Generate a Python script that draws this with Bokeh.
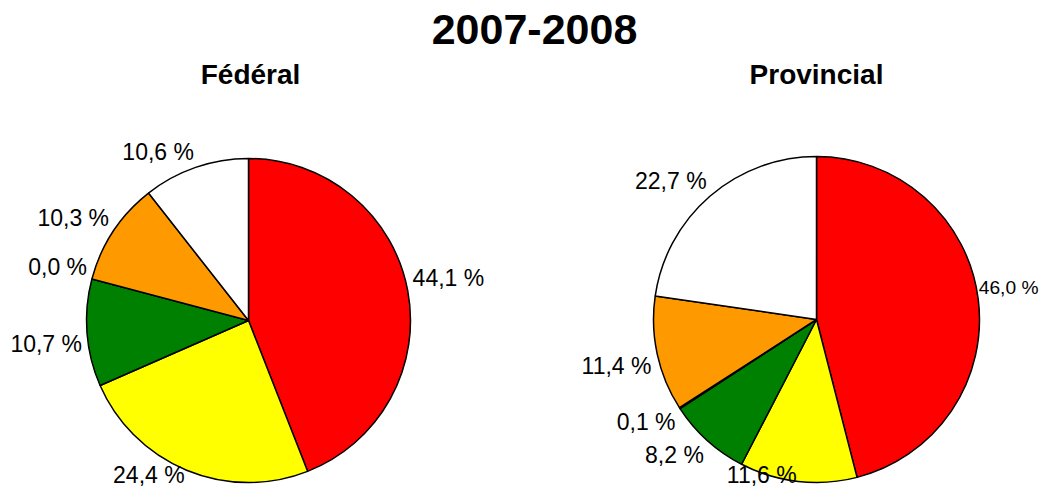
import math
from bokeh.plotting import figure
from bokeh.models import Range1d, ColumnDataSource
from bokeh.embed import file_html
from bokeh.resources import INLINE
from bokeh.core.properties import value

# ---- data ----
main_title = "2007-2008"
pie_titles = ["Fédéral", "Provincial"]
segments = ["Rouge", "Jaune", "Vert", "Bleu", "Orange", "Blanc"]
federal_values = [44.1, 24.4, 10.7, 0.0, 10.3, 10.6]
provincial_values = [46.0, 11.6, 8.2, 0.1, 11.4, 22.7]
colors = ["#FF0000", "#FFFF00", "#008000", "#0000FF", "#FF9900", "#FFFFFF"]

# ---- layout (pixel-based data space) ----
W, H = 1039, 488
FONT = "Liberation Sans"
LABEL_SIZE = 23
CHAR_W = {",": 0.278, " ": 0.278, "%": 0.889, ".": 0.278}

def sx(x):
    return x

def sy(y):
    return H - y

def em_width(t):
    return sum(CHAR_W.get(ch, 0.556) for ch in t)

def sgn(v, eps=0.05):
    return 0 if abs(v) < eps else (1 if v > 0 else -1)

p = figure(width=W, height=H, x_range=Range1d(0, W), y_range=Range1d(0, H),
           output_backend="svg", toolbar_location=None, min_border=0,
           x_axis_location=None, y_axis_location=None)
p.grid.visible = False
p.outline_line_color = None
p.background_fill_color = "white"
p.border_fill_color = "white"

pies = [
    (pie_titles[0], federal_values, (248, 320), 162, (250, 74)),
    (pie_titles[1], provincial_values, (816, 319), 163, (816, 74)),
]

# main title
p.text(x=[sx(534)], y=[sy(29)], text=[main_title], text_font=value(FONT),
       text_font_style="bold", text_font_size="43px", text_align="center",
       text_baseline="middle", text_color="black")

for name, vals, (cx, cy), r, (tx, ty) in pies:
    total = sum(vals)
    cum = 0.0
    wx, wy, st, en, fc = [], [], [], [], []
    lx, ly, lt, ls = [], [], [], []
    for v, col in zip(vals, colors):
        t0 = cum / total * 2 * math.pi
        t1 = (cum + v) / total * 2 * math.pi
        cum += v
        if v > 0:
            wx.append(sx(cx)); wy.append(sy(cy))
            st.append(math.pi / 2 - t0); en.append(math.pi / 2 - t1)
            fc.append(col)
        mid = (t0 + t1) / 2
        s, c = math.sin(mid), math.cos(mid)
        label = f"{v:.1f} %".replace(".", ",")
        size = LABEL_SIZE
        w = em_width(label) * size
        h = 22
        g = 5
        px = cx + (r + g) * s
        py = cy - (r + g) * c
        X = px + sgn(s) * w / 2
        Y = py - sgn(c) * h / 2
        if X + w / 2 > W - 2:
            # label would leave the canvas: shrink it to fit beside the pie edge
            row = min(abs(Y - 8 - cy), abs(Y + 8 - cy))
            edge = cx + math.sqrt(max(r * r - row * row, 0))
            avail = (W - 1) - (edge + 1)
            size = min(size, avail / em_width(label))
            w = em_width(label) * size
            X = (W - 1) - w / 2
        X = max(X, w / 2 + 2)
        Y = min(max(Y, size / 2 + 2), H - size / 2 - 2)
        lx.append(sx(X)); ly.append(sy(Y)); lt.append(label)
        ls.append(f"{size:.1f}px")
    src = ColumnDataSource(dict(x=wx, y=wy, start=st, end=en, color=fc))
    p.wedge(x="x", y="y", radius=r, start_angle="start", end_angle="end",
            direction="clock", fill_color="color", line_color="black",
            line_width=1.5, source=src)
    lsrc = ColumnDataSource(dict(x=lx, y=ly, text=lt, size=ls))
    p.text(x="x", y="y", text="text", text_font=value(FONT),
           text_font_size="size", text_align="center",
           text_baseline="middle", text_color="black", source=lsrc)
    p.text(x=[sx(tx)], y=[sy(ty)], text=[name], text_font=value(FONT),
           text_font_style="bold", text_font_size="28px", text_align="center",
           text_baseline="middle", text_color="black")

open("out.html", "w").write(file_html(p, INLINE))
